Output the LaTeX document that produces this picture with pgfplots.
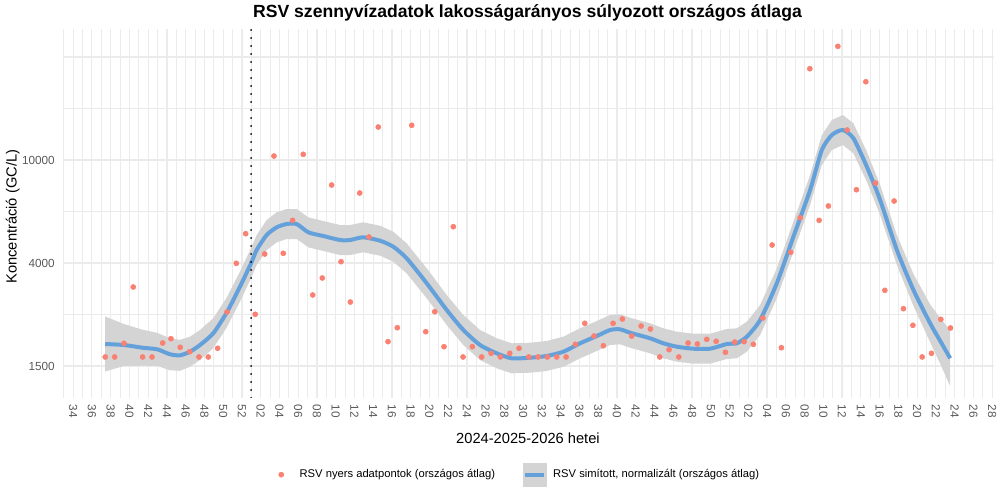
\documentclass[border=0pt]{standalone}
\usepackage{fontspec}
\setmainfont{Liberation Sans}
\usepackage{pgfplots}
\pgfplotsset{compat=1.18}
\usepgfplotslibrary{fillbetween}
\usepackage{pgfplotstable}

\definecolor{ptcol}{HTML}{FA8072}
\definecolor{smoothblue}{HTML}{64A0DA}
\definecolor{rib}{HTML}{D4D4D4}
\definecolor{gridc}{HTML}{EBEBEB}

\pgfplotstableread{
x y
3.42 1630
4.43 1630
5.42 1849
6.41 3105
7.41 1630
8.41 1630
9.55 1854
10.43 1929
11.42 1782
12.43 1711
13.42 1630
14.41 1630
15.41 1766
16.41 2467
17.40 3863
18.40 5074
19.42 2415
20.43 4208
21.42 10377
22.41 4235
23.41 5739
24.54 10543
25.55 2885
26.57 3374
27.57 7945
28.57 3921
29.56 2704
30.56 7381
31.55 4922
32.54 13555
33.58 1877
34.57 2134
36.11 13770
37.60 2057
38.56 2473
39.55 1792
40.54 5412
41.58 1630
42.57 1792
43.57 1630
44.57 1686
45.56 1630
46.56 1686
47.55 1766
48.59 1630
49.58 1630
50.57 1630
51.57 1630
52.57 1630
53.56 1832
54.56 2223
55.55 1977
56.54 1808
57.58 2223
58.57 2313
59.57 1977
60.57 2168
61.56 2109
62.56 1630
63.55 1743
64.59 1630
65.58 1854
66.57 1837
67.57 1918
68.57 1883
69.56 1702
70.56 1871
71.55 1877
72.54 1832
73.55 2334
74.54 4572
75.53 1775
76.53 4275
77.53 5877
78.56 23193
79.55 5739
80.54 6548
81.55 28509
82.54 13185
83.53 7609
84.53 20572
85.56 8093
86.56 3012
87.55 6856
88.54 2543
89.55 2182
90.54 1630
91.53 1686
92.53 2306
93.56 2129
}\pointdata

\pgfplotstableread{
x y lo hi
3.42 1837 1426 2366
5.42 1820 1500 2208
7.41 1775 1504 2095
8.97 1749 1502 2036
10.33 1671 1442 1936
11.39 1655 1435 1909
12.46 1711 1490 1965
13.53 1820 1585 2090
14.94 2027 1765 2327
16.37 2451 2135 2814
17.79 3114 2712 3575
18.97 3863 3364 4436
19.57 4366 3803 5013
20.64 5013 4366 5756
21.71 5382 4687 6180
22.77 5547 4831 6369
23.84 5547 4831 6369
25.08 5139 4476 5901
26.68 4967 4326 5703
28.46 4787 4169 5497
29.53 4787 4169 5497
30.94 4908 4275 5635
32.73 4757 4143 5462
34.14 4501 3920 5168
35.57 4045 3523 4644
37.71 3213 2798 3689
39.84 2512 2188 2884
41.61 2090 1820 2400
43.39 1820 1585 2090
45.17 1686 1468 1936
46.77 1610 1402 1849
48.73 1619 1410 1859
50.51 1645 1433 1889
52.28 1711 1490 1965
54.06 1849 1610 2123
55.84 1977 1722 2270
57.26 2090 1820 2400
58.33 2103 1832 2415
59.39 2038 1775 2340
61.53 1936 1686 2223
62.94 1849 1610 2123
64.37 1792 1561 2058
66.14 1759 1532 2020
67.93 1759 1532 2020
69.71 1837 1600 2109
70.77 1849 1610 2123
71.84 1964 1711 2255
73.26 2291 1995 2631
75.04 3213 2798 3689
76.81 4935 4298 5666
78.59 7587 6608 8711
79.84 10967 9552 12592
80.91 12592 10967 14458
82.08 13185 11483 15139
83.21 12215 10638 14025
84.64 9404 8190 10798
86.06 6920 6027 7945
87.84 4366 3803 5013
89.61 3021 2607 3501
91.39 2223 1866 2648
92.50 1880 1521 2323
93.53 1610 1244 2084
}\smoothdata

\begin{document}
\begin{tikzpicture}
\path (0,0) rectangle (750pt,375pt);
\begin{axis}[
  at={(47.25pt,76.5pt)}, anchor=south west,
  scale only axis, width=698.25pt, height=276.5pt,
  xmin=-1.08, xmax=98.2,
  ymode=log, ymin=1117, ymax=33339,
  axis line style={draw=none},
  major tick length=0pt, minor tick length=0pt,
  xtick={0,2,...,98}, minor xtick={-1,1,...,97},
  xticklabels={34,36,38,40,42,44,46,48,50,52,02,04,06,08,10,12,14,16,18,20,22,24,26,28,30,32,34,36,38,40,42,44,46,48,50,52,02,04,06,08,10,12,14,16,18,20,22,24,26,28},
  ytick={1500,3873,10000,25823}, yticklabels={1500,4000,10000,{}},
  minor ytick={2410,6224,16070},
  grid=both,
  major grid style={gridc, line width=0.9pt},
  minor grid style={gridc, line width=0.55pt},
  tick label style={font=\fontsize{8.8}{10}\selectfont, text=black!65},
  xticklabel style={rotate=-90, anchor=west, inner sep=0pt},
  xticklabel shift=5pt,
  yticklabel style={anchor=east, inner sep=0pt},
  yticklabel shift=6pt,
  /pgf/number format/assume math mode=true,
  legend columns=2,
  legend cell align=left,
  legend style={at={(0.485,-0.208)}, anchor=center, draw=none, fill=none,
    font=\fontsize{8.4}{10}\selectfont,
    nodes={inner xsep=0pt},
    /tikz/every odd column/.append style={column sep=5.25pt},
    /tikz/every even column/.append style={column sep=20.8pt}},
]
\addplot[name path=hi, draw=none, forget plot] table[x=x, y=hi]{\smoothdata};
\addplot[name path=lo, draw=none, forget plot] table[x=x, y=lo]{\smoothdata};
\addplot[rib, forget plot] fill between[of=hi and lo];
\addplot[smoothblue, line width=3pt, smooth, tension=0.4, forget plot] table[x=x, y=y]{\smoothdata};
\addplot[black, line width=1.5pt, line cap=round, dash pattern=on 0pt off 6pt, forget plot] coordinates {(18.97,1117) (18.97,33339)};
\addplot[ptcol, only marks, mark=*, mark size=1.9pt, mark options={draw=ptcol, fill=ptcol}, forget plot] table[x=x, y=y]{\pointdata};
\addlegendimage{legend image code/.code={\path[draw=none, fill=none] (0cm,-8.7pt) rectangle (0.6cm,8.7pt); \fill[ptcol] (0.3cm,0cm) circle[radius=1.9pt];}}
\addlegendentry{RSV nyers adatpontok (országos átlag)}
\addlegendimage{legend image code/.code={\fill[rib] (0cm,-8.7pt) rectangle (0.6cm,8.7pt); \draw[smoothblue, line width=3pt] (0.06cm,0pt) -- (0.54cm,0pt);}}
\addlegendentry{RSV simított, normalizált (országos átlag)}
\end{axis}
\node[inner sep=0pt, font=\fontsize{13.2}{15}\selectfont\bfseries] at (395.6pt,365.3pt) {RSV szennyvízadatok lakosságarányos súlyozott országos átlaga};
\node[inner sep=0pt, rotate=90, font=\fontsize{11}{13}\selectfont] at (9.6pt,212.5pt) {Koncentráció (GC/L)};
\node[inner sep=0pt, font=\fontsize{11}{13}\selectfont] at (396pt,46pt) {2024-2025-2026 hetei};
\end{tikzpicture}
\end{document}
